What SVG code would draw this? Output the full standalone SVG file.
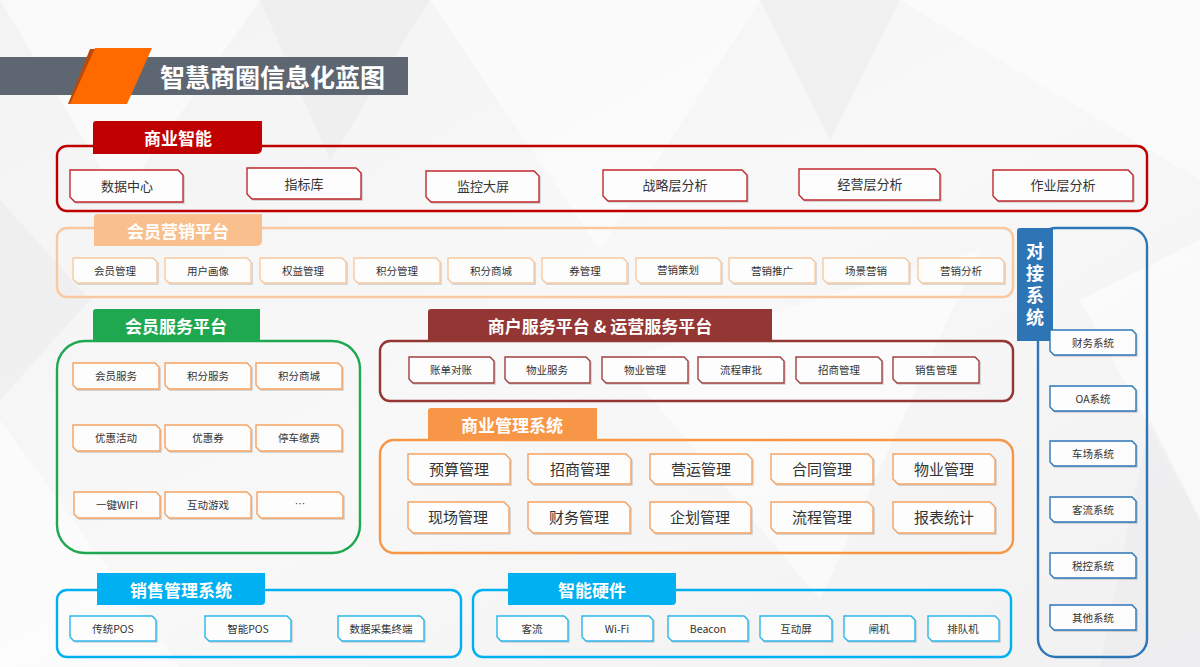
<svg xmlns="http://www.w3.org/2000/svg" width="1200" height="667" viewBox="0 0 1200 667">
<defs>
<linearGradient id="bg" x1="0" y1="0" x2="1" y2="1">
<stop offset="0" stop-color="#f3f3f4"/>
<stop offset="0.5" stop-color="#f8f8f8"/>
<stop offset="1" stop-color="#f1f1f2"/>
</linearGradient>
<filter id="sh" x="-10%" y="-20%" width="130%" height="150%">
<feDropShadow dx="1" dy="1" stdDeviation="0.6" flood-color="#000" flood-opacity="0.18"/>
</filter>
</defs>
<style>
.it{fill:#fdfdfd;stroke-width:1.4;filter:url(#sh)}
.t{font-family:"Noto Sans CJK SC","Liberation Sans",sans-serif;fill:#333;text-anchor:middle;dominant-baseline:central;transform:translateY(-1px)}
.s11{font-size:10.5px}
.s13{font-size:13px}
.s15{font-size:15px}
.tab{font-family:"Noto Sans CJK SC","Liberation Sans",sans-serif;fill:#fff;font-weight:700;font-size:17px;text-anchor:middle;dominant-baseline:central}
.vt{font-family:"Noto Sans CJK SC","Liberation Sans",sans-serif;fill:#fff;font-weight:700;font-size:18px;writing-mode:vertical-rl;text-orientation:upright;letter-spacing:4px}
.box{fill:none;stroke-width:2.4}
.red{stroke:#c00000}
.peach{stroke:#f8c9a0}
.green{stroke:#1fa84f}
.brown{stroke:#943634}
.orange{stroke:#f79646}
.cyan{stroke:#00b0f0}
.blue{stroke:#2e75b6}
.ired{stroke:#c0282e}
.ipeach{stroke:#f8c9a0}
.iorange{stroke:#f4a262}
.ibrown{stroke:#a0413f}
.icyan{stroke:#2bb6ec}
.iblue{stroke:#2e75b6}
</style>

<!-- background -->
<rect width="1200" height="667" fill="url(#bg)"/>
<g fill="#ffffff" opacity="0.5">
<polygon points="0,0 260,0 120,200"/>
<polygon points="430,0 760,0 600,250"/>
<polygon points="900,0 1200,0 1200,180"/>
<polygon points="620,360 980,250 820,600"/>
<polygon points="0,420 180,667 0,667"/>
<polygon points="1080,300 1200,240 1200,520"/>
</g>
<g fill="#e8e8ea" opacity="0.45">
<polygon points="260,0 430,0 330,160"/>
<polygon points="760,0 900,0 830,140"/>
<polygon points="1150,420 1200,520 1200,667 1100,667"/>
<polygon points="0,200 90,300 0,400"/>
</g>

<!-- title -->
<g id="title">
<rect x="0" y="57" width="408" height="38" fill="#5e6672"/>
<polygon points="90,49 97,49 74,104 68,104" fill="#b84a0c"/>
<polygon points="95,48 152,48 127,104 70,104" fill="#ff6a00"/>
<text x="160" y="76" style="font-family:'Noto Sans CJK SC','Liberation Sans',sans-serif;font-size:25px;font-weight:700;fill:#fff;dominant-baseline:central">智慧商圈信息化蓝图</text>
</g>

<!-- 商业智能 -->
<g id="bi">
<rect x="57" y="146" width="1090" height="65" rx="10" class="box red"/>
<path d="M96,121 H262 V148 Q262,154 256,154 H93 V124 Q93,121 96,121 Z" fill="#c00000"/>
<text x="178" y="137" class="tab">商业智能</text>
<path d="M70,170 H178 L183,175 V202 H75 L70,197 Z" class="it ired"/><text x="127" y="186" class="t s13">数据中心</text>
<path d="M247,168 H356 L361,173 V199 H252 L247,194 Z" class="it ired"/><text x="304" y="184" class="t s13">指标库</text>
<path d="M426,171 H534 L539,176 V202 H431 L426,197 Z" class="it ired"/><text x="483" y="186" class="t s13">监控大屏</text>
<path d="M603,170 H742 L747,175 V201 H608 L603,196 Z" class="it ired"/><text x="675" y="185" class="t s13">战略层分析</text>
<path d="M799,169 H935 L940,174 V200 H804 L799,195 Z" class="it ired"/><text x="870" y="184" class="t s13">经营层分析</text>
<path d="M993,170 H1128 L1133,175 V201 H998 L993,196 Z" class="it ired"/><text x="1063" y="185" class="t s13">作业层分析</text>
</g>

<!-- 会员营销平台 -->
<g id="mkt">
<rect x="57" y="228" width="956" height="69" rx="10" class="box peach"/>
<path d="M97,214 H262 V240 Q262,246 256,246 H94 V217 Q94,214 97,214 Z" fill="#f9c08e"/>
<text x="178" y="230" class="tab">会员营销平台</text>
<path d="M73,258 H153 L157,262 V283 H77 L73,279 Z" class="it ipeach"/><text x="115" y="271" class="t s11">会员管理</text>
<path d="M165,258 H247 L251,262 V283 H169 L165,279 Z" class="it ipeach"/><text x="208" y="271" class="t s11">用户画像</text>
<path d="M260,258 H342 L346,262 V283 H264 L260,279 Z" class="it ipeach"/><text x="303" y="271" class="t s11">权益管理</text>
<path d="M354,258 H436 L440,262 V283 H358 L354,279 Z" class="it ipeach"/><text x="397" y="271" class="t s11">积分管理</text>
<path d="M448,258 H530 L534,262 V283 H452 L448,279 Z" class="it ipeach"/><text x="491" y="271" class="t s11">积分商城</text>
<path d="M542,258 H623 L627,262 V283 H546 L542,279 Z" class="it ipeach"/><text x="585" y="271" class="t s11">券管理</text>
<path d="M636,258 H717 L721,262 V283 H640 L636,279 Z" class="it ipeach"/><text x="678" y="270" class="t s11">营销策划</text>
<path d="M729,258 H811 L815,262 V283 H733 L729,279 Z" class="it ipeach"/><text x="772" y="271" class="t s11">营销推广</text>
<path d="M823,258 H905 L909,262 V283 H827 L823,279 Z" class="it ipeach"/><text x="866" y="271" class="t s11">场景营销</text>
<path d="M918,258 H1000 L1004,262 V283 H922 L918,279 Z" class="it ipeach"/><text x="961" y="271" class="t s11">营销分析</text>
</g>

<!-- 对接系统 -->
<g id="integ">
<rect x="1038" y="228" width="109" height="429" rx="18" class="box blue"/>
<path d="M1020,228 H1053 V336 Q1053,341 1048,341 H1017 V231 Q1017,228 1020,228 Z" fill="#2e75b6"/>
<text x="1035" y="242" class="vt">对接系统</text>
<path d="M1050,330 H1132 L1136,334 V355 H1054 L1050,351 Z" class="it iblue"/><text x="1093" y="343" class="t s11">财务系统</text>
<path d="M1050,386 H1132 L1136,390 V411 H1054 L1050,407 Z" class="it iblue"/><text x="1093" y="399" class="t s11">OA系统</text>
<path d="M1050,441 H1132 L1136,445 V466 H1054 L1050,462 Z" class="it iblue"/><text x="1093" y="454" class="t s11">车场系统</text>
<path d="M1050,497 H1132 L1136,501 V522 H1054 L1050,518 Z" class="it iblue"/><text x="1093" y="510" class="t s11">客流系统</text>
<path d="M1050,553 H1132 L1136,557 V578 H1054 L1050,574 Z" class="it iblue"/><text x="1093" y="566" class="t s11">税控系统</text>
<path d="M1050,605 H1132 L1136,609 V630 H1054 L1050,626 Z" class="it iblue"/><text x="1093" y="618" class="t s11">其他系统</text>
</g>

<!-- 会员服务平台 -->
<g id="svc">
<rect x="57" y="341" width="303" height="212" rx="28" class="box green"/>
<path d="M96,309 H260 V341 H93 V312 Q93,309 96,309 Z" fill="#1fa84f"/>
<text x="176" y="325" class="tab">会员服务平台</text>
<path d="M73,363 H155 L159,367 V389 H77 L73,385 Z" class="it iorange"/><text x="116" y="376" class="t s11">会员服务</text>
<path d="M165,363 H247 L251,367 V389 H169 L165,385 Z" class="it iorange"/><text x="208" y="376" class="t s11">积分服务</text>
<path d="M256,363 H338 L342,367 V389 H260 L256,385 Z" class="it iorange"/><text x="299" y="376" class="t s11">积分商城</text>
<path d="M73,425 H156 L160,429 V451 H77 L73,447 Z" class="it iorange"/><text x="116" y="438" class="t s11">优惠活动</text>
<path d="M165,425 H247 L251,429 V451 H169 L165,447 Z" class="it iorange"/><text x="208" y="438" class="t s11">优惠券</text>
<path d="M256,425 H338 L342,429 V451 H260 L256,447 Z" class="it iorange"/><text x="299" y="438" class="t s11">停车缴费</text>
<path d="M74,492 H156 L160,496 V518 H78 L74,514 Z" class="it iorange"/><text x="117" y="505" class="t s11">一键WIFI</text>
<path d="M165,492 H247 L251,496 V518 H169 L165,514 Z" class="it iorange"/><text x="208" y="505" class="t s11">互动游戏</text>
<path d="M257,492 H339 L343,496 V518 H261 L257,514 Z" class="it iorange"/><text x="300" y="504" class="t s11" style="font-family:'Liberation Sans',sans-serif">···</text>
</g>

<!-- 商户服务平台 & 运营服务平台 -->
<g id="merchant">
<rect x="380" y="341" width="633" height="60" rx="10" class="box brown"/>
<path d="M431,309 H772 V341 H428 V312 Q428,309 431,309 Z" fill="#943634"/>
<text x="600" y="325" class="tab">商户服务平台 &amp; 运营服务平台</text>
<path d="M409,357 H490 L494,361 V383 H413 L409,379 Z" class="it ibrown"/><text x="451" y="370" class="t s11">账单对账</text>
<path d="M505,357 H586 L590,361 V383 H509 L505,379 Z" class="it ibrown"/><text x="547" y="370" class="t s11">物业服务</text>
<path d="M602,357 H684 L688,361 V383 H606 L602,379 Z" class="it ibrown"/><text x="645" y="370" class="t s11">物业管理</text>
<path d="M698,357 H780 L784,361 V383 H702 L698,379 Z" class="it ibrown"/><text x="741" y="370" class="t s11">流程审批</text>
<path d="M796,357 H878 L882,361 V383 H800 L796,379 Z" class="it ibrown"/><text x="839" y="370" class="t s11">招商管理</text>
<path d="M893,357 H975 L979,361 V383 H897 L893,379 Z" class="it ibrown"/><text x="936" y="370" class="t s11">销售管理</text>
</g>

<!-- 商业管理系统 -->
<g id="mgmt">
<rect x="380" y="440" width="633" height="113" rx="14" class="box orange"/>
<path d="M431,408 H597 V440 H428 V411 Q428,408 431,408 Z" fill="#f79646"/>
<text x="512" y="424" class="tab">商业管理系统</text>
<path d="M408,454 H505 L510,459 V484 H413 L408,479 Z" class="it iorange"/><text x="459" y="469" class="t s15">预算管理</text>
<path d="M528,454 H626 L631,459 V484 H533 L528,479 Z" class="it iorange"/><text x="580" y="469" class="t s15">招商管理</text>
<path d="M650,454 H747 L752,459 V484 H655 L650,479 Z" class="it iorange"/><text x="701" y="469" class="t s15">营运管理</text>
<path d="M771,454 H868 L873,459 V484 H776 L771,479 Z" class="it iorange"/><text x="822" y="469" class="t s15">合同管理</text>
<path d="M893,454 H990 L995,459 V484 H898 L893,479 Z" class="it iorange"/><text x="944" y="469" class="t s15">物业管理</text>
<path d="M408,502 H504 L509,507 V533 H413 L408,528 Z" class="it iorange"/><text x="458" y="517" class="t s15">现场管理</text>
<path d="M528,502 H625 L630,507 V533 H533 L528,528 Z" class="it iorange"/><text x="579" y="517" class="t s15">财务管理</text>
<path d="M650,502 H746 L751,507 V533 H655 L650,528 Z" class="it iorange"/><text x="700" y="517" class="t s15">企划管理</text>
<path d="M771,502 H868 L873,507 V533 H776 L771,528 Z" class="it iorange"/><text x="822" y="517" class="t s15">流程管理</text>
<path d="M893,502 H990 L995,507 V533 H898 L893,528 Z" class="it iorange"/><text x="944" y="517" class="t s15">报表统计</text>
</g>

<!-- 销售管理系统 -->
<g id="sales">
<rect x="57" y="590" width="404" height="67" rx="10" class="box cyan"/>
<path d="M97,573 H265 V601 Q265,605 261,605 H97 Z" fill="#00b0f0"/>
<text x="181" y="589" class="tab">销售管理系统</text>
<path d="M70,616 H152 L156,620 V641 H74 L70,637 Z" class="it icyan"/><text x="113" y="629" class="t s11">传统POS</text>
<path d="M205,616 H287 L291,620 V641 H209 L205,637 Z" class="it icyan"/><text x="248" y="629" class="t s11">智能POS</text>
<path d="M338,616 H420 L424,620 V641 H342 L338,637 Z" class="it icyan"/><text x="381" y="629" class="t s11">数据采集终端</text>
</g>

<!-- 智能硬件 -->
<g id="hw">
<rect x="473" y="590" width="538" height="67" rx="10" class="box cyan"/>
<path d="M508,573 H676 V601 Q676,605 672,605 H508 Z" fill="#00b0f0"/>
<text x="592" y="589" class="tab">智能硬件</text>
<path d="M497,616 H564 L568,620 V641 H501 L497,637 Z" class="it icyan"/><text x="532" y="629" class="t s11">客流</text>
<path d="M582,616 H649 L653,620 V641 H586 L582,637 Z" class="it icyan"/><text x="617" y="629" class="t s11">Wi-Fi</text>
<path d="M668,616 H744 L748,620 V641 H672 L668,637 Z" class="it icyan"/><text x="708" y="629" class="t s11">Beacon</text>
<path d="M760,616 H828 L832,620 V641 H764 L760,637 Z" class="it icyan"/><text x="796" y="629" class="t s11">互动屏</text>
<path d="M844,616 H911 L915,620 V641 H848 L844,637 Z" class="it icyan"/><text x="879" y="629" class="t s11">闸机</text>
<path d="M928,616 H995 L999,620 V641 H932 L928,637 Z" class="it icyan"/><text x="963" y="629" class="t s11">排队机</text>
</g>
</svg>
